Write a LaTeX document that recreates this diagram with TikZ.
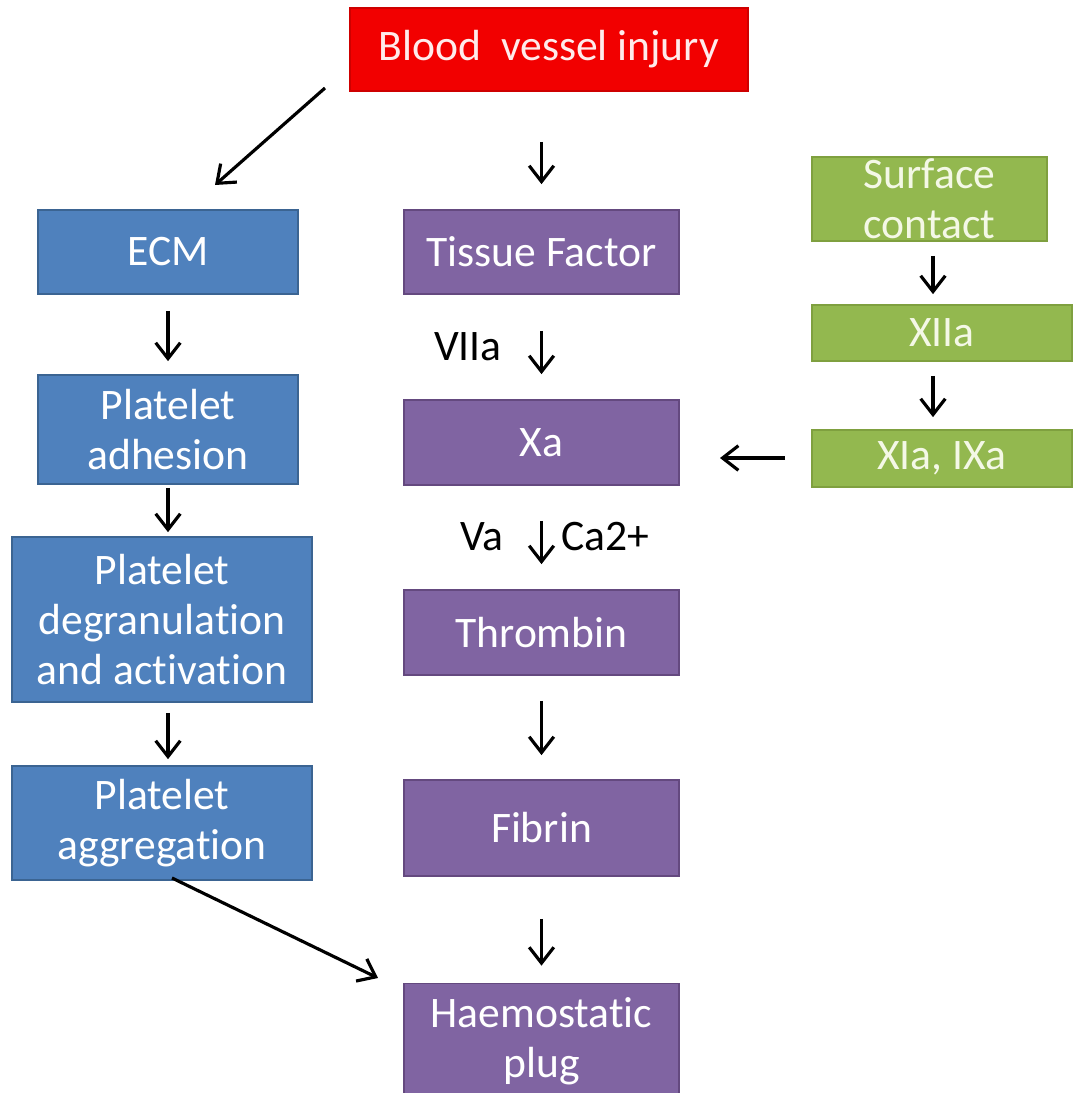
\documentclass[tikz,border=0pt]{standalone}
\usepackage{fontspec}
\setmainfont{Carlito}[Ligatures=NoCommon]
\usetikzlibrary{arrows.meta}
\definecolor{bred}{HTML}{F20000}
\definecolor{bblue}{HTML}{4F81BD}
\definecolor{bblueb}{HTML}{3B6492}
\definecolor{bpurp}{HTML}{8064A2}
\definecolor{bpurpb}{HTML}{64497F}
\definecolor{bgreen}{HTML}{93B84F}
\definecolor{bgreenb}{HTML}{7FA03F}
\definecolor{gtext}{HTML}{F4F8E6}
\tikzset{
  boxbase/.style={rectangle, inner sep=0pt, align=center, text=white,
    font=\fontsize{24.8}{28.5}\selectfont, line width=1pt},
  redbox/.style={boxbase, fill=bred, draw=bred!85!black, text=white!92!red},
  bluebox/.style={boxbase, fill=bblue, draw=bblueb},
  purpbox/.style={boxbase, fill=bpurp, draw=bpurpb},
  greenbox/.style={boxbase, fill=bgreen, draw=bgreenb, text=gtext},
  arr/.style={-{Straight Barb[length=9pt,width=14pt,line width=1.8pt]}, line width=1.8pt, black},
  lbl/.style={font=\fontsize{24.8}{28.5}\selectfont, text=black, inner sep=0pt}
}
\begin{document}
\begin{tikzpicture}[x=0.02cm,y=-0.02cm]
\useasboundingbox (0,0) rectangle (1077,1093);
\fill[white] (0,0) rectangle (1077,1093);
% nodes
\node[redbox, minimum width=7.96cm, minimum height=1.66cm] (inj) at (549,49.5) {Blood\ \ vessel injury};
\node[bluebox, minimum width=5.2cm, minimum height=1.68cm] (ecm) at (168,252) {ECM};
\node[bluebox, minimum width=5.2cm, minimum height=2.18cm] (adh) at (168,429.5) {Platelet\\adhesion};
\node[bluebox, minimum width=6.0cm, minimum height=3.3cm] (deg) at (162,619.5) {Platelet\\degranulation\\and activation};
\node[bluebox, minimum width=6.0cm, minimum height=2.28cm] (agg) at (162,823) {Platelet\\aggregation};
\node[purpbox, minimum width=5.5cm, minimum height=1.68cm] (tf) at (541.5,252) {Tissue Factor};
\node[purpbox, minimum width=5.5cm, minimum height=1.7cm] (xa) at (541.5,442.5) {Xa};
\node[purpbox, minimum width=5.5cm, minimum height=1.7cm] (thr) at (541.5,632.5) {Thrombin};
\node[purpbox, minimum width=5.5cm, minimum height=1.92cm] (fib) at (541.5,828) {Fibrin};
\node[purpbox, minimum width=5.5cm, minimum height=2.3cm] (plug) at (541.5,1041) {Haemostatic\\plug};
\node[greenbox, minimum width=4.7cm, minimum height=1.68cm] (surf) at (929.5,199) {Surface\\contact};
\node[greenbox, minimum width=5.2cm, minimum height=1.12cm] (xii) at (942,333) {XIIa};
\node[greenbox, minimum width=5.2cm, minimum height=1.14cm] (xi) at (942,458.5) {XIa, IXa};
% labels
\node[lbl] (l7) at (468,347) {VIIa};
\node[lbl] (l5) at (482,537) {Va};
\node[lbl] (lca) at (605,537) {Ca2+};
% free ends
\coordinate (d1s) at (325,88);
\coordinate (d1e) at (215,185);
\coordinate (d2s) at (172,878);
\coordinate (d2e) at (378,978);
\coordinate (h1s) at (785,458);
\coordinate (h1e) at (720,458);
% connectors
\draw[arr] (d1s) -- (d1e);
\draw[arr, shorten <=1.0cm, shorten >=0.5cm] (inj.south -| tf.north) -- (tf.north);
\draw[arr, shorten <=0.32cm, shorten >=0.26cm] (ecm.south) -- (adh.north);
\draw[arr, shorten <=0.06cm, shorten >=0.08cm] (adh.south) -- (adh.south |- deg.north);
\draw[arr, shorten <=0.2cm, shorten >=0.12cm] (adh.south |- deg.south) -- (adh.south |- agg.north);
\draw[arr, shorten <=0.72cm, shorten >=0.5cm] (tf.south) -- (xa.north);
\draw[arr, shorten <=0.7cm, shorten >=0.5cm] (xa.south) -- (thr.north);
\draw[arr, shorten <=0.5cm, shorten >=0.48cm] (thr.south) -- (fib.north);
\draw[arr, shorten <=0.84cm, shorten >=0.34cm] (fib.south) -- (plug.north);
\draw[arr, shorten <=0.28cm, shorten >=0.2cm] (surf.south -| 933,0) -- (xii.north -| 933,0);
\draw[arr, shorten <=0.28cm, shorten >=0.24cm] (xii.south -| 933,0) -- (xi.north -| 933,0);
\draw[arr] (h1s) -- (h1e);
\draw[arr] (d2s) -- (d2e);
\end{tikzpicture}
\end{document}
